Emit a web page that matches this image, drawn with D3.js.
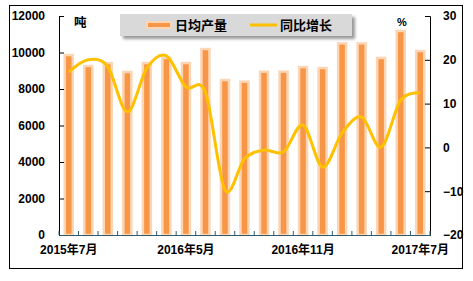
<!DOCTYPE html>
<html>
<head>
<meta charset="utf-8">
<script src="https://cdn.jsdelivr.net/npm/d3@7"></script>
<style>
  body { margin: 0; background: #fff; }
  text { font-family: "Liberation Sans", Arial, "Noto Sans CJK SC", sans-serif; font-weight: bold; }
</style>
</head>
<body>
<div id="chart"></div>
<script>
// months (Jan/Feb missing in source data)
const months = ['2015年7月','2015年8月','2015年9月','2015年10月','2015年11月','2015年12月',
  '2016年5月','2016年6月','2016年7月','2016年8月','2016年9月','2016年10月','2016年11月',
  '2016年12月','2017年3月','2017年4月','2017年5月','2017年6月','2017年7月']
const output = [9860, 9260, 9420, 8930, 9420, 9700, 9420, 10190, 8490, 8400, 8950, 8950, 9200, 9150, 10500, 10500, 9700, 11180, 10080]
const growth = [17.2, 20.0, 18.4, 8.1, 18.1, 20.9, 13.8, 12.6, -9.7, -2.6, -0.6, -1.0, 5.1, -4.5, 3.3, 6.9, 0.1, 10.8, 12.4]
const leftTicks = [0, 2000, 4000, 6000, 8000, 10000, 12000]
const rightTicks = [-20, -10, 0, 10, 20, 30]
const shownLabels = ['2015年7月', '2016年5月', '2016年11月', '2017年7月']

const W = 473, H = 281
const pLeft = 59, pRight = 430, pTop = 16, pBottom = 235

const svg = d3.select('#chart').append('svg')
  .attr('width', W)
  .attr('height', H)

const defs = svg.append('defs')
const shadow = defs.append('filter').attr('id', 'shadow')
  .attr('x', '-10%').attr('y', '-30%').attr('width', '130%').attr('height', '180%')
shadow.append('feDropShadow')
  .attr('dx', 3).attr('dy', 3).attr('stdDeviation', 1.5)
  .attr('flood-color', '#555').attr('flood-opacity', 0.6)

// outer frame
svg.append('rect')
  .attr('x', 9.5).attr('y', 5.5)
  .attr('width', 453).attr('height', 263)
  .attr('fill', 'none').attr('stroke', '#000').attr('stroke-width', 1)

const x = d3.scaleBand().domain(months).range([pLeft, pRight]).padding(0)
const yL = d3.scaleLinear().domain([0, 12000]).range([pBottom, pTop])
const yR = d3.scaleLinear().domain([-20, 30]).range([pBottom, pTop])

// bars
const barW = 8
svg.append('g').selectAll('rect')
  .data(output)
  .enter().append('rect')
  .attr('x', (d, i) => x(months[i]) + x.bandwidth() / 2 - barW / 2)
  .attr('y', d => yL(d))
  .attr('width', barW)
  .attr('height', d => pBottom - yL(d))
  .attr('fill', '#f79646')
  .attr('stroke', '#fcd5b4')
  .attr('stroke-width', 2.5)

// line
const line = d3.line()
  .x((d, i) => x(months[i]) + x.bandwidth() / 2)
  .y(d => yR(d))
  .curve(d3.curveCardinal.tension(0))
svg.append('path')
  .datum(growth)
  .attr('d', line)
  .attr('fill', 'none')
  .attr('stroke', '#ffc000')
  .attr('stroke-width', 3)

// left axis
const gL = svg.append('g').attr('transform', 'translate(' + pLeft + ',0)')
  .call(d3.axisLeft(yL).tickValues(leftTicks).tickSize(-5).tickPadding(14).tickFormat(d3.format('d')))
gL.select('.domain').attr('stroke', '#000')
gL.selectAll('.tick line').attr('stroke', '#000')
gL.selectAll('text').attr('font-size', 12).attr('fill', '#000')
  .style('font-family', '"Liberation Sans", Arial, sans-serif')

// right axis
const gR = svg.append('g').attr('transform', 'translate(' + pRight + ',0)')
  .call(d3.axisRight(yR).tickValues(rightTicks).tickSize(-5).tickPadding(13))
gR.select('.domain').attr('stroke', '#000')
gR.selectAll('.tick line').attr('stroke', '#000')
gR.selectAll('text').attr('font-size', 12).attr('fill', '#000')
  .style('font-family', '"Liberation Sans", Arial, sans-serif')

// bottom axis
const gB = svg.append('g').attr('transform', 'translate(0,' + pBottom + ')')
  .call(d3.axisBottom(x).tickSize(0).tickFormat(d => shownLabels.includes(d) ? d : ''))
gB.select('.domain').attr('stroke', '#2e5e6e')
gB.selectAll('text').attr('font-size', 12).attr('fill', '#000').attr('dy', '1.35em')
gB.selectAll('.bnd')
  .data(d3.range(months.length + 1))
  .enter().append('line')
  .attr('class', 'bnd')
  .attr('x1', i => pLeft + i * x.bandwidth())
  .attr('x2', i => pLeft + i * x.bandwidth())
  .attr('y1', 0).attr('y2', -4)
  .attr('stroke', '#2e5e6e')

// unit labels
svg.append('text').attr('x', 74).attr('y', 27).attr('font-size', 12.5).text('吨')
svg.append('text').attr('x', 397).attr('y', 26).attr('font-size', 11).text('%')

// legend
const lg = svg.append('g')
lg.append('rect')
  .attr('x', 120).attr('y', 14)
  .attr('width', 232).attr('height', 22)
  .attr('fill', '#d9d9d9')
  .attr('filter', 'url(#shadow)')
lg.append('rect')
  .attr('x', 147).attr('y', 22)
  .attr('width', 24).attr('height', 6)
  .attr('fill', '#f79646').attr('stroke', '#fcd5b4').attr('stroke-width', 2)
lg.append('text').attr('x', 175).attr('y', 30).attr('font-size', 13).text('日均产量')
lg.append('line')
  .attr('x1', 250).attr('x2', 277).attr('y1', 25).attr('y2', 25)
  .attr('stroke', '#ffc000').attr('stroke-width', 3)
lg.append('text').attr('x', 280).attr('y', 30).attr('font-size', 13).text('同比增长')
</script>
</body>
</html>
